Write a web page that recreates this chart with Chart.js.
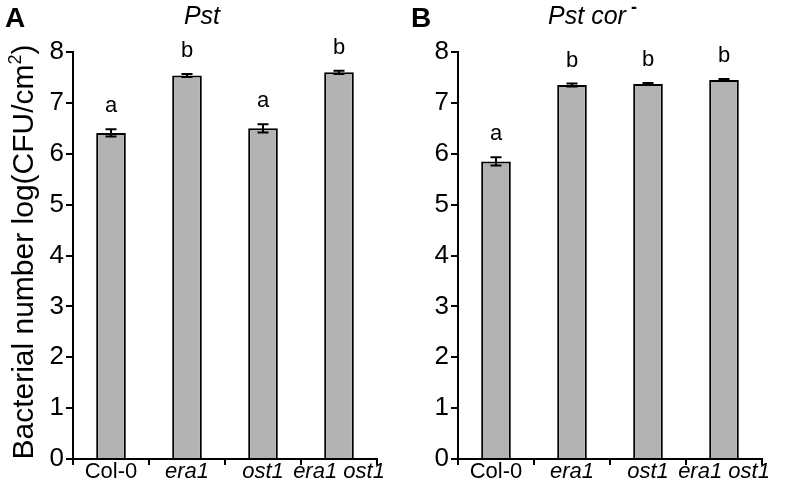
<!DOCTYPE html>
<html>
<head>
<meta charset="utf-8">
<script src="https://cdn.jsdelivr.net/npm/chart.js@4.4.1/dist/chart.umd.min.js"></script>
<style>
  body { margin: 0; background: #fff; }
  #wrap { position: relative; width: 789px; height: 485px; }
  canvas { position: absolute; top: 0; }
</style>
</head>
<body>
<div id="wrap">
  <canvas id="chartA" width="392" height="485" style="left:0"></canvas>
  <canvas id="chartB" width="397" height="485" style="left:392px"></canvas>
</div>
<script>
// values
const genotypes = ['Col-0', 'era1', 'ost1', 'era1 ost1'];
const pstMeans = [6.41, 7.54, 6.50, 7.60];
const pstErrors = [0.07, 0.03, 0.08, 0.03];
const pstLetters = ['a', 'b', 'a', 'b'];
const corMeans = [5.85, 7.35, 7.37, 7.45];
const corErrors = [0.08, 0.03, 0.02, 0.02];
const corLetters = ['a', 'b', 'b', 'b'];
const yMin = 0, yMax = 8, yStep = 1;

const FONT = '"Liberation Sans", Arial, sans-serif';

// error bars + significance letters
const errorBars = {
    id: 'errorBars',
    afterDatasetsDraw(chart, args, opts) {
        const ctx = chart.ctx;
        const y = chart.scales.y;
        const meta = chart.getDatasetMeta(0);
        const values = chart.data.datasets[0].data;
        ctx.save();
        ctx.strokeStyle = '#000';
        ctx.fillStyle = '#000';
        ctx.lineWidth = 2;
        ctx.font = '22px ' + FONT;
        ctx.textAlign = 'center';
        ctx.textBaseline = 'alphabetic';
        opts.errors.forEach((e, i) => {
            const px = meta.data[i].x;
            const top = y.getPixelForValue(values[i] + e);
            const bot = y.getPixelForValue(values[i] - e);
            ctx.beginPath();
            ctx.moveTo(px, top); ctx.lineTo(px, bot);
            ctx.moveTo(px - 5.5, top); ctx.lineTo(px + 5.5, top);
            ctx.moveTo(px - 5.5, bot); ctx.lineTo(px + 5.5, bot);
            ctx.stroke();
            ctx.fillText(opts.letters[i], px, top - 17);
        });
        ctx.restore();
    }
};

// panel letter, title and y axis title
const panelText = {
    id: 'panelText',
    afterDraw(chart, args, opts) {
        const ctx = chart.ctx;
        ctx.save();
        ctx.fillStyle = '#000';
        ctx.textBaseline = 'alphabetic';
        ctx.font = 'bold 28px ' + FONT;
        ctx.textAlign = 'left';
        ctx.fillText(opts.panel, opts.panelX, 27);
        ctx.font = 'italic 25px ' + FONT;
        ctx.textAlign = 'center';
        ctx.fillText(opts.title, opts.titleX, 24);
        if (opts.titleSup) {
            const w = ctx.measureText(opts.title).width;
            ctx.font = 'bold 18px ' + FONT;
            ctx.textAlign = 'left';
            ctx.fillText(opts.titleSup, opts.titleX + w / 2 + 5, 13);
        }
        if (opts.yTitle) {
            ctx.translate(33, 252);
            ctx.rotate(-Math.PI / 2);
            const main = 'Bacterial number log(CFU/cm', sup = '2', end = ')';
            ctx.font = '30px ' + FONT;
            const wm = ctx.measureText(main).width, we = ctx.measureText(end).width;
            ctx.font = '18px ' + FONT;
            const ws = ctx.measureText(sup).width;
            let x0 = -(wm + ws + we) / 2;
            ctx.textAlign = 'left';
            ctx.font = '30px ' + FONT;
            ctx.fillText(main, x0, 0);
            ctx.font = '18px ' + FONT;
            ctx.fillText(sup, x0 + wm, -12);
            ctx.font = '30px ' + FONT;
            ctx.fillText(end, x0 + wm + ws, 0);
        }
        ctx.restore();
    }
};

function makeChart(id, means, errors, letters, axisWidth, padRight, text) {
    return new Chart(document.getElementById(id), {
        type: 'bar',
        data: {
            labels: genotypes,
            datasets: [{
                data: means,
                backgroundColor: '#b3b3b3',
                borderColor: '#000',
                borderWidth: 2,
                borderSkipped: 'bottom',
                categoryPercentage: 1,
                barPercentage: 0.39
            }]
        },
        options: {
            responsive: false,
            animation: false,
            layout: { padding: { top: 52, right: padRight, bottom: 0, left: 0 } },
            plugins: {
                legend: { display: false },
                tooltip: { enabled: false },
                errorBars: { errors: errors, letters: letters },
                panelText: text
            },
            scales: {
                x: {
                    grid: {
                        offset: true,
                        drawOnChartArea: false,
                        tickLength: 6,
                        lineWidth: 2,
                        color: c => c.index === genotypes.length ? 'rgba(0,0,0,0)' : '#000'
                    },
                    border: { color: '#000', width: 2 },
                    ticks: {
                        color: '#000',
                        padding: -6,
                        maxRotation: 0,
                        autoSkip: false,
                        font: c => ({ family: FONT, size: 22, style: c.index === 0 ? 'normal' : 'italic' })
                    },
                    afterFit: s => { s.height = 26; }
                },
                y: {
                    min: yMin,
                    max: yMax,
                    grid: { drawOnChartArea: false, tickLength: 7, lineWidth: 2, color: '#000' },
                    border: { color: '#000', width: 2 },
                    ticks: { stepSize: yStep, color: '#000', padding: 2, font: { family: FONT, size: 26 } },
                    afterFit: s => { s.width = axisWidth; }
                }
            }
        },
        plugins: [errorBars, panelText]
    });
}

makeChart('chartA', pstMeans, pstErrors, pstLetters, 73, 15,
    { panel: 'A', panelX: 5, title: 'Pst', titleX: 202, yTitle: true });
makeChart('chartB', corMeans, corErrors, corLetters, 66, 27,
    { panel: 'B', panelX: 19, title: 'Pst cor', titleX: 195, titleSup: '-' });
</script>
</body>
</html>
